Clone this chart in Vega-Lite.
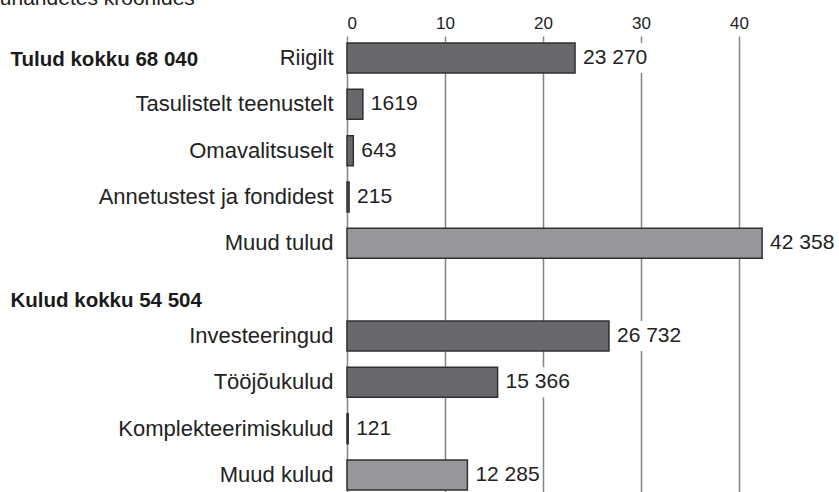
{
  "$schema": "https://vega.github.io/schema/vega-lite/v6.json",
  "width": 490,
  "height": 451,
  "autosize": {"type": "none"},
  "padding": {"left": 347, "top": 41, "right": 2, "bottom": 0},
  "background": "white",
  "title": {
    "text": "tuhandetes kroonides",
    "anchor": "start",
    "frame": "group",
    "dx": -353,
    "dy": 16,
    "offset": 4,
    "baseline": "alphabetic",
    "font": "Liberation Sans",
    "fontSize": 21,
    "fontWeight": "normal",
    "color": "#222222"
  },
  "config": {
    "view": {"stroke": null},
    "locale": {
      "number": {"decimal": ",", "thousands": " ", "grouping": [3], "currency": ["", ""]}
    }
  },
  "data": {
    "values": [
      {"cat": "Riigilt", "value": 23270, "type": "main"},
      {"cat": "Tasulistelt teenustelt", "value": 1619, "type": "main"},
      {"cat": "Omavalitsuselt", "value": 643, "type": "main"},
      {"cat": "Annetustest ja fondidest", "value": 215, "type": "main"},
      {"cat": "Muud tulud", "value": 42358, "type": "other"},
      {"cat": "Investeeringud", "value": 26732, "type": "main"},
      {"cat": "Tööjõukulud", "value": 15366, "type": "main"},
      {"cat": "Komplekteerimiskulud", "value": 121, "type": "main"},
      {"cat": "Muud kulud", "value": 12285, "type": "other"}
    ]
  },
  "encoding": {
    "x": {
      "field": "value",
      "type": "quantitative",
      "scale": {"domain": [0, 50000], "nice": false, "zero": true},
      "axis": {
        "orient": "top",
        "title": null,
        "values": [0, 10000, 20000, 30000, 40000],
        "labelExpr": "format(datum.value / 1000, 'd')",
        "domain": false,
        "grid": true,
        "gridColor": "#858585",
        "gridWidth": 1.5,
        "ticks": true,
        "tickColor": "#858585",
        "tickWidth": 1.5,
        "tickSize": 5,
        "labelPadding": 8,
        "labelBaseline": "alphabetic",
        "labelFont": "Liberation Sans",
        "labelFontSize": 17,
        "labelColor": "#222222"
      }
    },
    "y": {
      "field": "cat",
      "type": "nominal",
      "sort": null,
      "scale": {
        "domain": ["Riigilt", "Tasulistelt teenustelt", "Omavalitsuselt", "Annetustest ja fondidest", "Muud tulud", "Kulud kokku 54 504", "Investeeringud", "Tööjõukulud", "Komplekteerimiskulud", "Muud kulud"],
        "paddingInner": 0.352,
        "paddingOuter": 0.043
      },
      "axis": null
    }
  },
  "layer": [
    {
      "mark": {"type": "bar", "color": "white", "xOffset": 4, "x2Offset": 74},
      "encoding": {
        "x2": {"field": "value"}
      }
    },
    {
      "mark": {"type": "bar", "stroke": "#303030", "strokeWidth": 1.5},
      "encoding": {
        "y": {
          "field": "cat",
          "type": "nominal",
          "sort": null,
          "axis": {
            "orient": "left",
            "title": null,
            "domain": false,
            "ticks": false,
            "grid": false,
            "labelPadding": 14,
            "labelFont": "Liberation Sans",
            "labelFontSize": 22,
            "labelColor": "#222222",
            "labelLimit": 400,
            "labelExpr": "datum.value == 'Kulud kokku 54 504' ? '' : datum.value"
          }
        },
        "color": {
          "field": "type",
          "type": "nominal",
          "scale": {"domain": ["main", "other"], "range": ["#67686b", "#96979b"]},
          "legend": null
        }
      }
    },
    {
      "transform": [{"filter": "datum.value >= 10000"}],
      "mark": {"type": "text", "align": "left", "baseline": "middle", "dx": 8, "font": "Liberation Sans", "fontSize": 21, "color": "#222222"},
      "encoding": {
        "text": {"field": "value", "type": "quantitative", "format": ","},
        "y": {
          "field": "cat",
          "type": "nominal",
          "sort": null,
          "axis": {
            "orient": "left",
            "title": null,
            "domain": false,
            "ticks": false,
            "grid": false,
            "labelAlign": "left",
            "labelPadding": 337,
            "labelOffset": {"condition": {"test": "datum.value == 'Kulud kokku 54 504'", "value": 11}, "value": 2},
            "labelFont": "Liberation Sans",
            "labelFontSize": 20.5,
            "labelFontWeight": "bold",
            "labelColor": "#1a1a1a",
            "labelLimit": 400,
            "labelExpr": "datum.value == 'Riigilt' ? 'Tulud kokku 68 040' : (datum.value == 'Kulud kokku 54 504' ? datum.value : '')"
          }
        }
      }
    },
    {
      "transform": [{"filter": "datum.value < 10000"}],
      "mark": {"type": "text", "align": "left", "baseline": "middle", "dx": 8, "font": "Liberation Sans", "fontSize": 21, "color": "#222222"},
      "encoding": {
        "text": {"field": "value", "type": "quantitative", "format": "d"}
      }
    }
  ],
  "resolve": {"axis": {"y": "independent"}}
}
